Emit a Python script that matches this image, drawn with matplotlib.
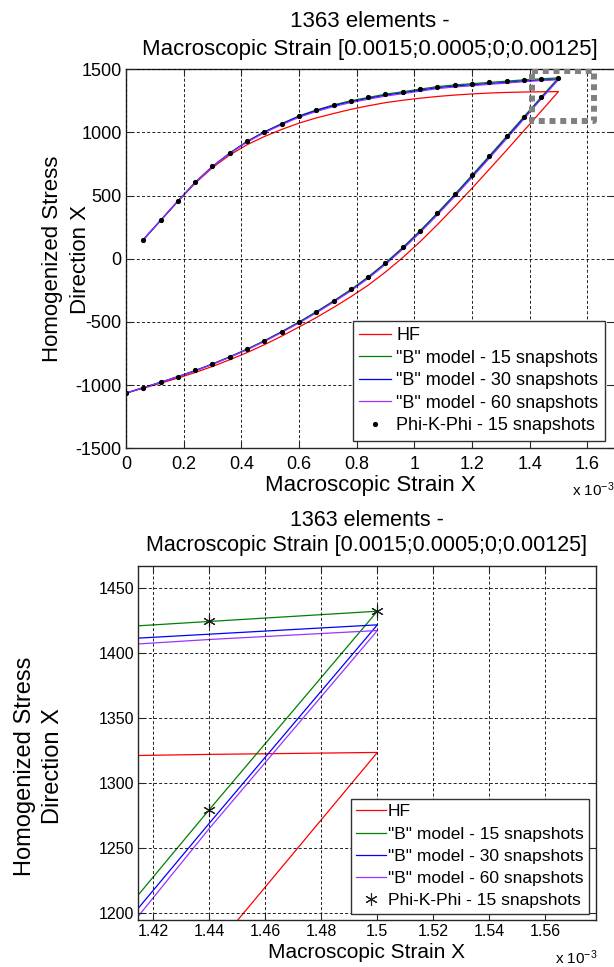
import matplotlib
matplotlib.use("Agg")
import matplotlib.pyplot as plt
import numpy as np

plt.rcParams['font.family'] = ['Liberation Sans', 'DejaVu Sans']
plt.rcParams['mathtext.fontset'] = 'custom'
plt.rcParams['mathtext.rm'] = 'Liberation Sans'
plt.rcParams['mathtext.it'] = 'Liberation Sans'

# ---------------- data (strain in units of 1e-3) ----------------
strain_up = [0.06, 0.12, 0.18, 0.24, 0.30, 0.36, 0.42, 0.48, 0.54, 0.60, 0.66, 0.72,
             0.78, 0.84, 0.90, 0.96, 1.02, 1.08, 1.14, 1.20, 1.26, 1.32, 1.38, 1.44, 1.50]
strain_down = [1.44, 1.38, 1.32, 1.26, 1.20, 1.14, 1.08, 1.02, 0.96, 0.90, 0.84, 0.78,
               0.72, 0.66, 0.60, 0.54, 0.48, 0.42, 0.36, 0.30, 0.24, 0.18, 0.12, 0.06, 0.00]

# loading branch (strain_up order)
hf_up = [150, 303, 455, 598, 722, 822, 903, 968, 1024, 1074, 1115, 1150,
         1183, 1211, 1236, 1255, 1271, 1285, 1296, 1305, 1312, 1317, 1320, 1322, 1323.5]
b15_up = [151, 304, 457, 605, 731, 837, 930, 1005, 1070, 1131, 1178, 1218,
          1251, 1277, 1303, 1322, 1343, 1363, 1376, 1386, 1396, 1406, 1416.6, 1424.5, 1432.4]
b30_up = [151, 304, 457, 605, 731, 836, 928, 1003, 1067, 1127, 1173, 1212,
          1244, 1270, 1295, 1314, 1334, 1354, 1367, 1377, 1387, 1397, 1407.5, 1414.7, 1421.9]
b60_up = [152, 305, 457, 604, 729, 833, 924, 998, 1061, 1120, 1166, 1205,
          1237, 1263, 1288, 1307, 1327, 1347, 1360, 1370, 1381, 1391, 1402.5, 1410.6, 1417.5]

# unloading branch (strain_down order)
hf_down = [1168, 1013, 859.5, 708, 558, 412, 270, 135, 10, -105, -209, -300,
           -385, -465, -540, -612, -680, -742, -799, -852, -900, -944, -985, -1024, -1063]
b15_down = [1279.5, 1124, 968.5, 814, 661, 510, 363, 222, 90, -32, -143, -243,
            -333, -419, -500, -576, -648, -714, -775, -832, -884, -932, -977, -1020, -1063]
b30_down = [1269, 1114, 958, 804, 651, 500, 354, 214, 82, -40, -150, -250,
            -339, -424, -505, -580, -652, -718, -778, -834, -886, -934, -978, -1020, -1063]
b60_down = [1265, 1105, 950, 795, 643, 493, 347, 207, 76, -45, -155, -254,
            -343, -428, -508, -583, -654, -719, -779, -835, -887, -934, -978, -1021, -1063]

# Phi-K-Phi (15 snapshots) points coincide with the "B" 15 model points
pkp_up = b15_up
pkp_down = b15_down

labels = ['HF', '"B" model - 15 snapshots', '"B" model - 30 snapshots',
          '"B" model - 60 snapshots', 'Phi-K-Phi - 15 snapshots']
colors = ['#FF0000', '#008000', '#0000FF', '#9933FF']

zoom_box_x = [1.407, 1.624]
zoom_box_y = [1092, 1490]

top_xticks = [0, 0.2, 0.4, 0.6, 0.8, 1.0, 1.2, 1.4, 1.6]
top_yticks = [-1500, -1000, -500, 0, 500, 1000, 1500]
bot_xticks = [1.42, 1.44, 1.46, 1.48, 1.50, 1.52, 1.54, 1.56]
bot_yticks = [1200, 1250, 1300, 1350, 1400, 1450]

title1 = '1363 elements -'
title2 = 'Macroscopic Strain [0.0015;0.0005;0;0.00125]'

# ---------------- figure ----------------
W, H = 614, 967
fig = plt.figure(figsize=(W / 100, H / 100), dpi=100)


def fx(px):
    return px / W


def fy(py):
    return 1 - py / H


xs = strain_up + strain_down
series = [hf_up + hf_down, b15_up + b15_down, b30_up + b30_down, b60_up + b60_down]
pkp = pkp_up + pkp_down


def style_axes(ax, labelsize):
    for s in ax.spines.values():
        s.set_color('#262626')
        s.set_linewidth(1.0)
    ax.tick_params(direction='in', length=5, width=0.8, top=True, right=True,
                   labelsize=labelsize, colors='#262626', labelcolor='black')
    ax.grid(True, linestyle=(0, (3.6, 2.6)), color='black', linewidth=0.6)
    ax.set_axisbelow(False)
    ax.xaxis.set_major_formatter(matplotlib.ticker.FormatStrFormatter('%g'))
    ax.yaxis.set_major_formatter(matplotlib.ticker.FormatStrFormatter('%g'))


# ---- top panel ----
ax1 = fig.add_axes([fx(126), fy(448.3), 1.7 * 288.3 / W, (448.3 - 69.3) / H])
for ys, c, lab in zip(series, colors, labels[:4]):
    ax1.plot(xs, ys, color=c, lw=0.9, label=lab)
ax1.plot(xs, pkp, linestyle='none', marker='.', ms=5.5, color='black', label=labels[4])
ax1.plot([zoom_box_x[0], zoom_box_x[1], zoom_box_x[1], zoom_box_x[0], zoom_box_x[0]],
         [zoom_box_y[1], zoom_box_y[1], zoom_box_y[0], zoom_box_y[0], zoom_box_y[1]],
         color='#808080', lw=4.3, linestyle=(0, (1, 0.8)), zorder=5)
ax1.set_xlim(0, 1.7)
ax1.set_ylim(-1500, 1500)
ax1.set_xticks(top_xticks)
ax1.set_yticks(top_yticks)
style_axes(ax1, 13)
ax1.tick_params(axis='x', pad=5.5)
ax1.tick_params(axis='y', pad=3)
leg1 = ax1.legend(loc='upper left', bbox_to_anchor=(fx(353), fy(320.7)),
                  bbox_transform=fig.transFigure, borderaxespad=0, fontsize=13,
                  fancybox=False, framealpha=1, edgecolor='#333333',
                  handlelength=1.77, handletextpad=0.28, labelspacing=0.31,
                  borderpad=0.35)
leg1.get_frame().set_linewidth(1.0)

fig.text(fx(370), fy(21.7), title1, ha='center', va='center', fontsize=16)
fig.text(fx(370), fy(49.3), title2, ha='center', va='center', fontsize=16)
fig.text(fx(370.8), fy(485), 'Macroscopic Strain X', ha='center', va='center', fontsize=16)
fig.text(fx(572), fy(490), r'x 10$^{-3}$', ha='left', va='center', fontsize=11)
fig.text(fx(53), fy(259), 'Homogenized Stress', rotation=90, ha='center', va='center', fontsize=16)
fig.text(fx(81), fy(259), 'Direction X', rotation=90, ha='center', va='center', fontsize=16)

# ---- bottom panel ----
ax2 = fig.add_axes([fx(138.3), fy(920), (595.7 - 138.3) / W, (920 - 565.7) / H])
for ys, c, lab in zip(series, colors, labels[:4]):
    ax2.plot(xs, ys, color=c, lw=0.9, label=lab)
ax2.plot(xs, pkp, linestyle='none', marker=(6, 2, 0), ms=9, mew=0.8,
         color='#222222', label=labels[4])
ax2.set_xlim(1.4146, 1.578)
ax2.set_ylim(1194.3, 1467.5)
ax2.set_xticks(bot_xticks)
ax2.set_yticks(bot_yticks)
style_axes(ax2, 11.5)
ax2.tick_params(axis='x', pad=3)
ax2.tick_params(axis='y', pad=3)
leg2 = ax2.legend(loc='upper left', bbox_to_anchor=(fx(350.7), fy(799)),
                  bbox_transform=fig.transFigure, borderaxespad=0, fontsize=12.5,
                  fancybox=False, framealpha=1, edgecolor='#333333',
                  handlelength=1.75, handletextpad=0.1, labelspacing=0.41,
                  borderpad=0.3)
leg2.get_frame().set_linewidth(1.0)

fig.text(fx(367), fy(520), title1, ha='center', va='center', fontsize=15.5)
fig.text(fx(367), fy(545), title2, ha='center', va='center', fontsize=15.5)
fig.text(fx(366), fy(952.5), 'Macroscopic Strain X', ha='center', va='center', fontsize=15)
fig.text(fx(555), fy(958), r'x 10$^{-3}$', ha='left', va='center', fontsize=11)
fig.text(fx(25), fy(766), 'Homogenized Stress', rotation=90, ha='center', va='center', fontsize=17)
fig.text(fx(53), fy(766), 'Direction X', rotation=90, ha='center', va='center', fontsize=17)

fig.savefig('out.png', dpi=100, facecolor='white')
